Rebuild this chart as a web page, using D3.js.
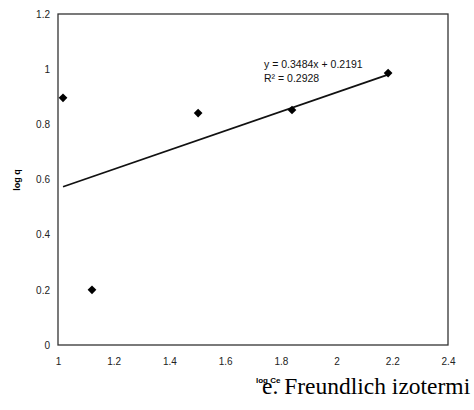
<!DOCTYPE html>
<html>
<head>
<meta charset="utf-8">
<script src="https://cdn.jsdelivr.net/npm/d3@7"></script>
<style>
  body { margin: 0; background: #fff; }
  svg { display: block; }
</style>
</head>
<body>
<svg width="474" height="410"></svg>
<script>
// data
const logCe = [1.018, 1.122, 1.503, 1.84, 2.185];
const logQ = [0.896, 0.2, 0.841, 0.852, 0.986];
const xTicks = [1, 1.2, 1.4, 1.6, 1.8, 2, 2.2, 2.4];
const yTicks = [0, 0.2, 0.4, 0.6, 0.8, 1, 1.2];
const slope = 0.3484, intercept = 0.2191;
const eqLines = ["y = 0.3484x + 0.2191", "R² = 0.2928"];

const margin = { top: 14, right: 26, bottom: 65, left: 58 },
      width = 474 - margin.left - margin.right,
      height = 410 - margin.top - margin.bottom;

const svg = d3.select("svg");
const g = svg.append("g")
    .attr("transform", `translate(${margin.left},${margin.top})`);

const x = d3.scaleLinear().domain([1, 2.4]).range([0, width]);
const y = d3.scaleLinear().domain([0, 1.2]).range([height, 0]);

// axes (no tick marks, like the Excel original)
const xAxis = g.append("g")
    .attr("transform", `translate(0,${height})`)
    .call(d3.axisBottom(x).tickValues(xTicks).tickSize(0).tickPadding(13)
        .tickFormat(d3.format("~g")));
const yAxis = g.append("g")
    .call(d3.axisLeft(y).tickValues(yTicks).tickSize(0).tickPadding(8)
        .tickFormat(d3.format("~g")));

[xAxis, yAxis].forEach(a => {
    a.select(".domain").remove();
    a.selectAll("text")
        .style("font-family", "Arial, 'Liberation Sans', sans-serif")
        .style("font-size", "10px")
        .style("fill", "#222");
});

// plot frame
g.append("rect")
    .attr("width", width)
    .attr("height", height)
    .style("fill", "none")
    .style("stroke", "#333")
    .style("stroke-width", 1.3);

// trend line
const xMin = d3.min(logCe), xMax = d3.max(logCe);
g.append("line")
    .attr("x1", x(xMin)).attr("y1", y(slope * xMin + intercept))
    .attr("x2", x(xMax)).attr("y2", y(slope * xMax + intercept))
    .style("stroke", "#111")
    .style("stroke-width", 1.8);

// points - squares turned 45 degrees
g.selectAll(".pt")
    .data(logCe)
    .enter().append("path")
    .attr("class", "pt")
    .attr("d", d3.symbol().type(d3.symbolSquare).size(38))
    .attr("transform", (d, i) => `translate(${x(d)},${y(logQ[i])}) rotate(45)`)
    .style("fill", "#000");

// equation
g.selectAll(".eq")
    .data(eqLines)
    .enter().append("text")
    .attr("class", "eq")
    .attr("x", 206)
    .attr("y", (d, i) => 54 + i * 14)
    .style("font-family", "Arial, 'Liberation Sans', sans-serif")
    .style("font-size", "10.5px")
    .style("fill", "#111")
    .text(d => d);

// axis titles
svg.append("text")
    .attr("transform", "translate(20,180) rotate(-90)")
    .style("text-anchor", "middle")
    .style("font-family", "Arial, 'Liberation Sans', sans-serif")
    .style("font-size", "9px")
    .style("font-weight", "bold")
    .text("log q");

svg.append("text")
    .attr("x", 256)
    .attr("y", 383)
    .style("font-family", "Arial, 'Liberation Sans', sans-serif")
    .style("font-size", "8px")
    .style("font-weight", "bold")
    .text("log Ce");

// caption
svg.append("text")
    .attr("x", 262)
    .attr("y", 394)
    .style("font-family", "'Times New Roman', 'Liberation Serif', serif")
    .style("font-size", "23.5px")
    .style("fill", "#000")
    .text("e. Freundlich izotermi");
</script>
</body>
</html>
